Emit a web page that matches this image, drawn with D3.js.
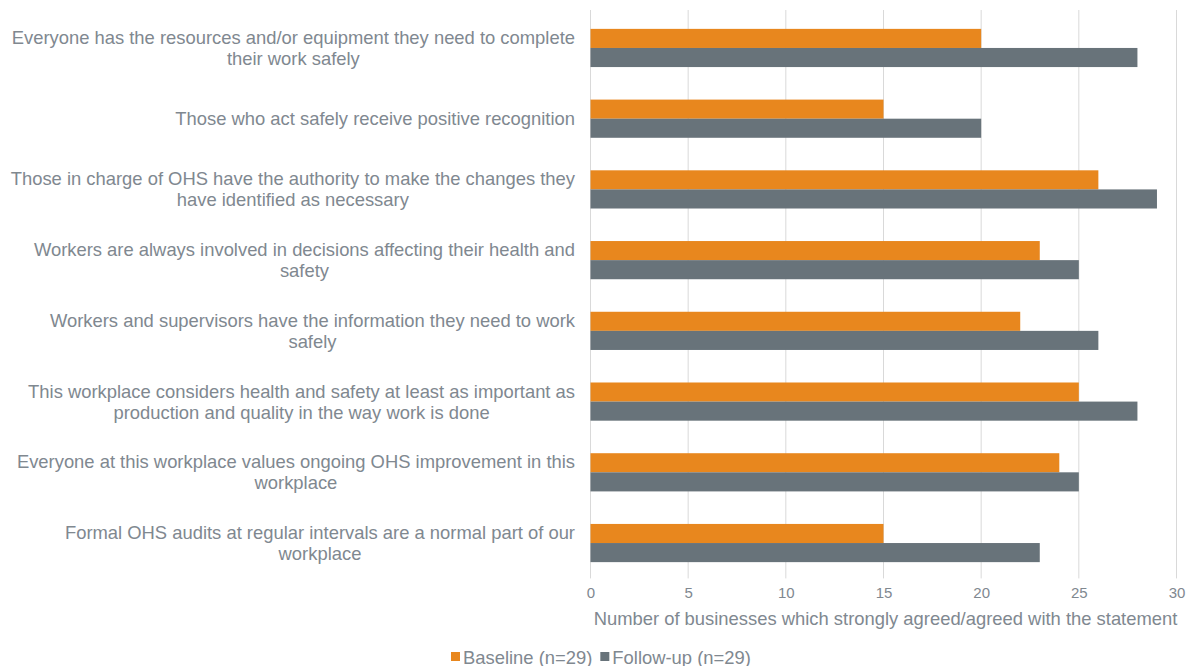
<!DOCTYPE html>
<html>
<head>
<meta charset="utf-8">
<script src="https://cdn.jsdelivr.net/npm/d3@7"></script>
<style>
  html, body { margin: 0; padding: 0; background: #ffffff; }
  svg { display: block; font-family: "Liberation Sans", Arial, sans-serif; }
</style>
</head>
<body>
<svg id="chart" width="1186" height="666"></svg>
<script>
// Survey statements (each entry holds the wrapped lines of the label)
const statements = [
  ["Everyone has the resources and/or equipment they need to complete", "their work safely"],
  ["Those who act safely receive positive recognition"],
  ["Those in charge of OHS have the authority to make the changes they", "have identified as necessary"],
  ["Workers are always involved in decisions affecting their health and", "safety"],
  ["Workers and supervisors have the information they need to work", "safely"],
  ["This workplace considers health and safety at least as important as", "production and quality in the way work is done"],
  ["Everyone at this workplace values ongoing OHS improvement in this", "workplace"],
  ["Formal OHS audits at regular intervals are a normal part of our", "workplace"]
];
const baseline = [20, 15, 26, 23, 22, 25, 24, 15];
const followUp = [28, 20, 29, 25, 26, 28, 25, 23];
const seriesNames = ["Baseline (n=29)", "Follow-up (n=29)"];
const xTicks = [0, 5, 10, 15, 20, 25, 30];
const xTitle = "Number of businesses which strongly agreed/agreed with the statement";

const colors = ["#E8871E", "#68737A"];
const textColor = "#808890";
const gridColor = "#D9D9D9";

const svg = d3.select("#chart");
const plot = { left: 590.5, right: 1176.5, top: 12.6, bottom: 578.4 };

const x = d3.scaleLinear().domain([0, 30]).range([plot.left, plot.right]);
const y = d3.scaleBand()
  .domain(d3.range(statements.length))
  .range([plot.top, plot.bottom])
  .paddingInner(0.46)
  .paddingOuter(0.23);
const ySub = d3.scaleBand().domain([0, 1]).range([0, y.bandwidth()]);

// vertical gridlines
svg.append("g").selectAll("line")
  .data(xTicks)
  .join("line")
  .attr("x1", d => x(d)).attr("x2", d => x(d))
  .attr("y1", 10).attr("y2", plot.bottom)
  .attr("stroke", gridColor).attr("stroke-width", 1);

// bars
const series = [baseline, followUp];
series.forEach((vals, si) => {
  svg.append("g").selectAll("rect")
    .data(vals)
    .join("rect")
    .attr("x", x(0))
    .attr("y", (d, i) => y(i) + ySub(si))
    .attr("width", d => x(d) - x(0))
    .attr("height", ySub.bandwidth())
    .attr("fill", colors[si]);
});

// x axis tick labels
const xAxis = d3.axisBottom(x).tickValues(xTicks).tickSize(0).tickPadding(9);
const gx = svg.append("g").attr("transform", `translate(0,${plot.bottom})`).call(xAxis);
gx.select(".domain").remove();
gx.selectAll("text")
  .attr("fill", textColor)
  .style("font-size", "15px")
  .style("font-family", "'Liberation Sans', Arial, sans-serif");

// axis title
svg.append("text")
  .attr("x", (plot.left + plot.right) / 2 + 2)
  .attr("y", 625)
  .attr("text-anchor", "middle")
  .attr("fill", textColor)
  .style("font-size", "18.4px")
  .text(xTitle);

// category labels: block right-aligned, lines centred within the block
const labelRight = 575;
const labelSize = 18.4;
statements.forEach((lines, i) => {
  const g = svg.append("g");
  const texts = lines.map(l => g.append("text")
    .attr("fill", textColor)
    .attr("text-anchor", "middle")
    .style("font-size", labelSize + "px")
    .text(l));
  const maxW = d3.max(texts, t => t.node().getComputedTextLength());
  const cx = labelRight - maxW / 2;
  const cy = y(i) + y.bandwidth() / 2;
  const lh = 21;
  const n = lines.length;
  texts.forEach((t, k) => {
    t.attr("x", cx).attr("y", cy + (k - (n - 1) / 2) * lh + 6.5);
  });
});

// legend
const legend = svg.append("g");
let lx = 451;
seriesNames.forEach((name, i) => {
  legend.append("rect")
    .attr("x", lx).attr("y", 652)
    .attr("width", 9).attr("height", 9)
    .attr("fill", colors[i]);
  const t = legend.append("text")
    .attr("x", lx + 12).attr("y", 663.5)
    .attr("fill", textColor)
    .style("font-size", "18.4px")
    .text(name);
  lx += 12 + t.node().getComputedTextLength() + 8;
});
</script>
</body>
</html>
